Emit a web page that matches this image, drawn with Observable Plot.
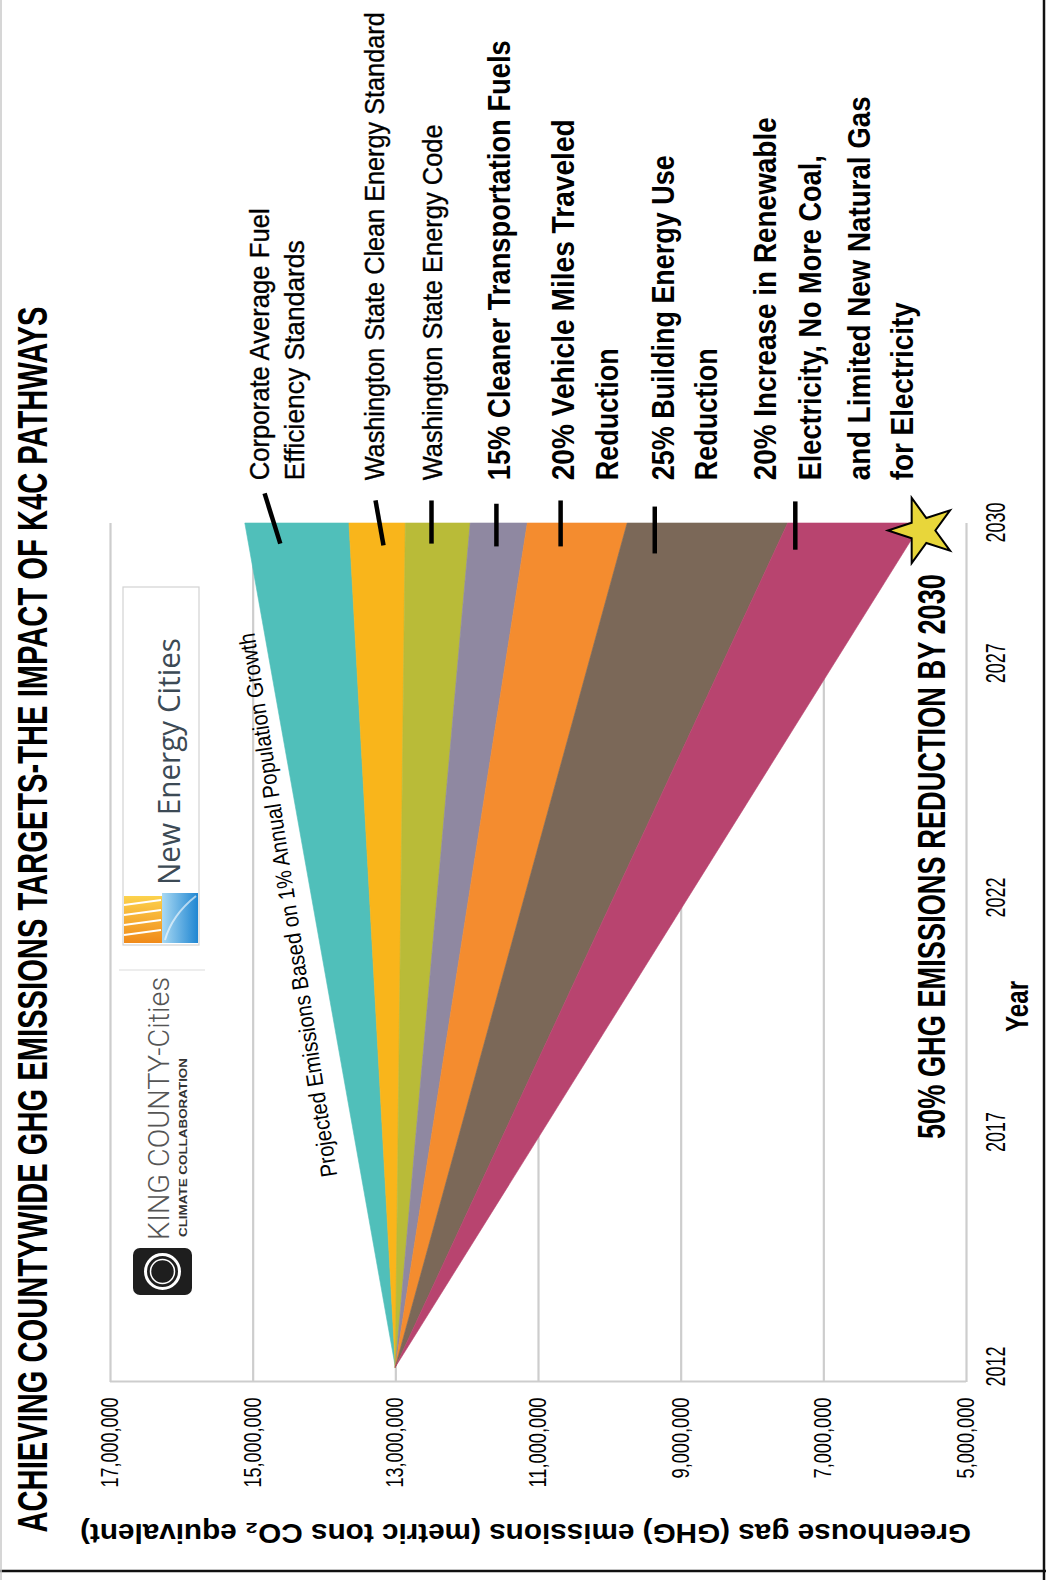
<!DOCTYPE html>
<html><head><meta charset="utf-8">
<script src="https://cdn.jsdelivr.net/npm/d3@7"></script>
<script src="https://cdn.jsdelivr.net/npm/@observablehq/plot@0.6"></script>
<style>
html,body{margin:0;padding:0;width:1046px;height:1580px;overflow:hidden;background:#fff;}
#rot{position:absolute;left:0;top:0;width:1580px;height:1046px;transform-origin:0 0;transform:translate(0px,1580px) rotate(-90deg);background:#fff;}
</style></head><body><div id="rot"></div>
<script>
// ---------- data ----------
const years = [2012, 2030];
const bandNames = ["Corporate Average Fuel Efficiency Standards","Washington State Clean Energy Standard","Washington State Energy Code","15% Cleaner Transportation Fuels","20% Vehicle Miles Traveled Reduction","25% Building Energy Use Reduction","20% Increase in Renewable Electricity"];
const bandColors = ["#50bfba","#f9b51b","#b9bb38","#8f88a1","#f48c2f","#7b6858","#b8446f"];
const start2012 = 13000000;
const bandTop2030 = [15110000, 13650000, 12860000, 11950000, 11150000, 9750000, 7500000];
const bandBottom2030 = [13650000, 12860000, 11950000, 11150000, 9750000, 7500000, 5620000];
const xTicks = [2012, 2017, 2022, 2027, 2030];
const yTicks = [5000000, 7000000, 9000000, 11000000, 13000000, 15000000, 17000000];
const labelLines = ["Corporate Average Fuel","Efficiency Standards","Washington State Clean Energy Standard","Washington State Energy Code","15% Cleaner Transportation Fuels","20% Vehicle Miles Traveled","Reduction","25% Building Energy Use","Reduction","20% Increase in Renewable","Electricity, No More Coal,","and Limited New Natural Gas","for Electricity"];
const labelValues = [14897000,14420000,13285000,12472000,11533000,10636000,10019000,9234000,8630000,7804000,7173000,6486000,5883000];
const labelBold = [false,false,false,false,true,true,true,true,true,true,true,true,true];
const leaderYear1 = [2030.62,2030.47,2030.47,2030.40,2030.47,2030.34,2030.45];
const leaderYear2 = [2029.55,2029.51,2029.55,2029.49,2029.49,2029.34,2029.42];
const leaderValue1 = [14840000,13285000,12500000,11590000,10690000,9370000,7400000];
const leaderValue2 = [14620000,13173000,12500000,11590000,10690000,9370000,7400000];
const titleText = "ACHIEVING COUNTYWIDE GHG EMISSIONS TARGETS-THE IMPACT OF K4C PATHWAYS";
const yLabel = "Greenhouse gas (GHG) emissions (metric tons CO\u2082 equivalent)";
const xLabel = "Year";
const projectedText = "Projected Emissions Based on 1% Annual Population Growth";
const targetText = "50% GHG EMISSIONS REDUCTION BY 2030";

// ---------- layout ----------
const NARROW = "'Liberation Sans Narrow','Arial Narrow','Liberation Sans',Arial,sans-serif";
const SANS = "'Liberation Sans',Arial,sans-serif";
const W = 1580, H = 1046;
const mL = 198, mR = 523, mT = 110, mB = 80;
const xMin = 2011.68;

const rows = bandNames.flatMap((b, i) => [
  {band: b, year: years[0], y1: start2012, y2: start2012},
  {band: b, year: years[1], y1: bandBottom2030[i], y2: bandTop2030[i]}
]);
const leaders = leaderYear1.map((d, i) => ({x1: d, x2: leaderYear2[i], y1: leaderValue1[i], y2: leaderValue2[i]}));
const labels = labelLines.map((t, i) => ({t, v: labelValues[i], bold: labelBold[i]}));
const labelYear = 2030.9;

const chart = Plot.plot({
  width: W, height: H,
  marginLeft: mL, marginRight: mR, marginTop: mT, marginBottom: mB,
  x: {domain: [xMin, 2030], label: null},
  y: {domain: [5000000, 17000000], label: null},
  color: {domain: bandNames, range: bandColors},
  style: {fontFamily: NARROW, color: "#000", background: "transparent", maxWidth: "none", overflow: "visible"},
  marks: [
    Plot.gridY(yTicks, {stroke: "#cdcdcd", strokeOpacity: 1, strokeWidth: 2.2}),
    Plot.ruleX([xMin], {stroke: "#cdcdcd", strokeWidth: 2.2}),
    Plot.areaY(rows, {x: "year", y1: "y1", y2: "y2", z: "band", fill: "band", stroke: "band", strokeWidth: 0.6}),
    Plot.axisX({ticks: xTicks, tickFormat: d => String(d), tickSize: 0, tickPadding: 19, fontSize: 28, label: null}),
    Plot.axisY({ticks: yTicks, tickFormat: d3.format(","), tickSize: 0, tickPadding: 16, fontSize: 23, label: null}),
    Plot.link(leaders, {x1: "x1", x2: "x2", y1: "y1", y2: "y2", stroke: "#000", strokeWidth: 4.5}),
    Plot.dot([{year: years[1], v: bandBottom2030[6]}], {x: "year", y: "v", symbol: "star", r: 20.5, fill: "#e8d63a", stroke: "#000", strokeWidth: 2, dx: -8}),
    Plot.text(labels.filter(d => !d.bold), {x: () => labelYear, y: "v", text: "t", textAnchor: "start", lineAnchor: "middle", fontSize: 28, fill: "#000", stroke: "#000", strokeWidth: 0.35}),
    Plot.text(labels.filter(d => d.bold), {x: () => labelYear, y: "v", text: "t", textAnchor: "start", lineAnchor: "middle", fontSize: 31, fontWeight: "bold", fill: "#000"}),
    Plot.text([projectedText], {x: () => 2021.84, y: () => 14505000, text: d => d, rotate: -8.7, textAnchor: "middle", lineAnchor: "middle", fontSize: 23, fill: "#000"}),
    Plot.text([targetText], {x: () => 2028.9, y: () => 5477000, text: d => d, textAnchor: "end", lineAnchor: "middle", fontSize: 39, fontWeight: "bold", fill: "#000"}),
    Plot.text([xLabel], {x: () => 2019.68, frameAnchor: "bottom", dy: 51, text: d => d, textAnchor: "middle", lineAnchor: "middle", fontSize: 32, fontWeight: "bold", fill: "#000"}),
    Plot.text([yLabel], {frameAnchor: "left", dx: 47 - mL, dy: -13, rotate: -90, text: d => d, textAnchor: "middle", lineAnchor: "middle", fontSize: 28, fontWeight: "bold", fontFamily: SANS, fill: "#000"}),
    Plot.text([titleText], {frameAnchor: "top-left", dx: 47 - mL, dy: 46 - mT, text: d => d, textAnchor: "start", lineAnchor: "bottom", fontSize: 43, fontWeight: "bold", fill: "#000"})
  ]
});

// ---------- decorations (logos, border) in unrotated frame ----------
const g = d3.select(chart).append("g").attr("class", "deco").attr("text-anchor", "start");
g.append("line").attr("x1", 9).attr("x2", 9).attr("y1", 0).attr("y2", H).attr("stroke", "#111").attr("stroke-width", 2.5);
g.append("line").attr("x1", 0).attr("x2", W).attr("y1", 1044).attr("y2", 1044).attr("stroke", "#111").attr("stroke-width", 2.5);
g.append("line").attr("x1", 0).attr("x2", W).attr("y1", 1).attr("y2", 1).attr("stroke", "#c8c8c8").attr("stroke-width", 1.5);

const defs = g.append("defs");
const g1 = defs.append("linearGradient").attr("id", "sun").attr("x1", 0).attr("x2", 1).attr("y1", 0).attr("y2", 0);
g1.append("stop").attr("offset", 0).attr("stop-color", "#f08a1a");
g1.append("stop").attr("offset", 1).attr("stop-color", "#fcd24c");
const g2 = defs.append("linearGradient").attr("id", "sea").attr("x1", 0).attr("x2", 0).attr("y1", 0).attr("y2", 1);
g2.append("stop").attr("offset", 0).attr("stop-color", "#a9d9f3");
g2.append("stop").attr("offset", 1).attr("stop-color", "#1f86d2");

// New Energy Cities
g.append("rect").attr("x", 635).attr("y", 123).attr("width", 358).attr("height", 76).attr("fill", "none").attr("stroke", "#d2d2d2").attr("stroke-width", 1.2);
g.append("rect").attr("x", 637).attr("y", 124).attr("width", 47).attr("height", 38).attr("fill", "url(#sun)");
[645, 655, 665, 675].forEach(u => g.append("line").attr("x1", u).attr("y1", 124).attr("x2", u + 5).attr("y2", 161).attr("stroke", "#fff").attr("stroke-width", 2));
g.append("path").attr("d", "M637,162 L687,162 L687,198 L637,198 Z").attr("fill", "url(#sea)");
g.append("path").attr("d", "M640,165 Q665,172 684,196").attr("fill", "none").attr("stroke", "#ffffff").attr("stroke-opacity", 0.6).attr("stroke-width", 2);
g.append("text").attr("x", 695).attr("y", 180).attr("text-anchor", "start").attr("font-family", "'Open Sans',sans-serif").attr("font-size", 31).attr("fill", "#3c4a55").attr("data-len", 247).text("New Energy Cities");

// King County-Cities
g.append("line").attr("x1", 610).attr("x2", 610).attr("y1", 119).attr("y2", 205).attr("stroke", "#dcdcdc").attr("stroke-width", 1.2);
g.append("rect").attr("x", 285).attr("y", 133).attr("width", 47).attr("height", 59).attr("rx", 7).attr("fill", "#1e1e1e");
g.append("circle").attr("cx", 308.5).attr("cy", 162.5).attr("r", 17).attr("fill", "none").attr("stroke", "#fff").attr("stroke-width", 3);
g.append("circle").attr("cx", 308.5).attr("cy", 162.5).attr("r", 12).attr("fill", "none").attr("stroke", "#fff").attr("stroke-width", 1.5);
g.append("text").attr("x", 340).attr("y", 169).attr("text-anchor", "start").attr("font-family", "Roboto,'Liberation Sans',sans-serif").attr("font-weight", 300).attr("font-size", 29).attr("fill", "#555").attr("data-len", 263).text("KING COUNTY-Cities");
g.append("text").attr("x", 343).attr("y", 187).attr("text-anchor", "start").attr("font-family", SANS).attr("font-weight", "bold").attr("font-size", 10).attr("fill", "#333").attr("data-len", 179).text("CLIMATE COLLABORATION");

// ---------- fit text lengths to the reference ----------
const lengths = {
  [titleText]: 1226, [yLabel]: 891, [projectedText]: 550, [targetText]: 565, [xLabel]: 51,
  "Corporate Average Fuel": 272, "Efficiency Standards": 240, "Washington State Clean Energy Standard": 468,
  "Washington State Energy Code": 356, "15% Cleaner Transportation Fuels": 440, "20% Vehicle Miles Traveled": 361,
  "Reduction": 132, "25% Building Energy Use": 325, "20% Increase in Renewable": 363,
  "Electricity, No More Coal,": 325, "and Limited New Natural Gas": 384, "for Electricity": 178
};
d3.select(chart).selectAll("text").each(function() {
  const t = this.textContent;
  let L = this.getAttribute("data-len") ? +this.getAttribute("data-len") : lengths[t];
  if (L == null && /^\d{4}$/.test(t)) L = 40;
  if (L == null && /^\d{1,2},\d{3},\d{3}$/.test(t)) L = t.length === 10 ? 90 : 81;
  if (L != null) { this.setAttribute("textLength", L); this.setAttribute("lengthAdjust", "spacingAndGlyphs"); }
});

document.getElementById("rot").appendChild(chart);
</script>
</body></html>
